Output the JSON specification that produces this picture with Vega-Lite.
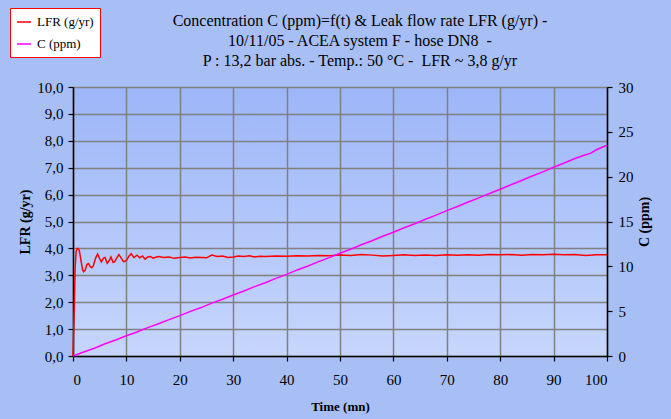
{
  "$schema": "https://vega.github.io/schema/vega-lite/v6.json",
  "width": 534,
  "height": 269,
  "autosize": {"type": "none"},
  "padding": {"left": 73, "top": 87, "right": 64, "bottom": 63},
  "background": "#a7bff5",
  "title": {
    "text": ["Concentration C (ppm)=f(t) & Leak flow rate LFR (g/yr) -", "10/11/05 - ACEA system F - hose DN8 \u00a0-", "P : 13,2 bar abs. - Temp.: 50 °C - \u00a0LFR ~ 3,8 g/yr"],
    "anchor": "middle",
    "dx": 20,
    "font": "Liberation Serif",
    "fontSize": 16,
    "fontWeight": "normal",
    "color": "#000000",
    "lineHeight": 20,
    "offset": -61
  },
  "config": {
    "view": {
      "stroke": null,
      "fill": {
        "gradient": "linear",
        "x1": 0, "y1": 0, "x2": 0, "y2": 1,
        "stops": [
          {"offset": 0, "color": "#9db6f8"},
          {"offset": 1, "color": "#c6d6fc"}
        ]
      }
    },
    "axis": {
      "labelFont": "Liberation Serif",
      "labelFontSize": 15,
      "labelColor": "#000000",
      "titleFont": "Liberation Serif",
      "titleFontWeight": "bold",
      "titleColor": "#000000",
      "gridColor": "#808080",
      "gridWidth": 1.5,
      "gridOpacity": 1,
      "domainColor": "#000000",
      "domainWidth": 1.5,
      "tickColor": "#000000",
      "tickWidth": 1.2,
      "tickSize": 5
    },
    "legend": {
      "labelFont": "Liberation Serif",
      "labelFontSize": 13,
      "labelColor": "#000000"
    }
  },
  "datasets": {
    "lfr": [
      {"t": 0, "v": 0}, {"t": 0.2, "v": 1.5}, {"t": 0.4, "v": 3.3}, {"t": 0.6, "v": 3.9}, {"t": 0.8, "v": 4.0},
      {"t": 1.0, "v": 4.0}, {"t": 1.2, "v": 3.9}, {"t": 1.5, "v": 3.55}, {"t": 1.8, "v": 3.2}, {"t": 2.0, "v": 3.13},
      {"t": 2.3, "v": 3.2}, {"t": 2.6, "v": 3.4}, {"t": 2.9, "v": 3.44}, {"t": 3.2, "v": 3.33}, {"t": 3.5, "v": 3.28},
      {"t": 3.8, "v": 3.35}, {"t": 4.2, "v": 3.62}, {"t": 4.6, "v": 3.79}, {"t": 5.0, "v": 3.62}, {"t": 5.3, "v": 3.5},
      {"t": 5.7, "v": 3.64}, {"t": 6.0, "v": 3.66}, {"t": 6.4, "v": 3.45}, {"t": 6.8, "v": 3.55}, {"t": 7.1, "v": 3.68},
      {"t": 7.5, "v": 3.48}, {"t": 7.8, "v": 3.5}, {"t": 8.2, "v": 3.65}, {"t": 8.6, "v": 3.77}, {"t": 9.0, "v": 3.65},
      {"t": 9.5, "v": 3.5}, {"t": 10.0, "v": 3.55}, {"t": 10.5, "v": 3.72}, {"t": 10.9, "v": 3.8}, {"t": 11.4, "v": 3.66},
      {"t": 12.0, "v": 3.75}, {"t": 12.5, "v": 3.65}, {"t": 13.0, "v": 3.72}, {"t": 13.5, "v": 3.6}, {"t": 14.0, "v": 3.68},
      {"t": 14.5, "v": 3.7}, {"t": 15, "v": 3.64}, {"t": 16, "v": 3.7}, {"t": 17, "v": 3.66}, {"t": 18, "v": 3.68},
      {"t": 19, "v": 3.63}, {"t": 20, "v": 3.66}, {"t": 21, "v": 3.68}, {"t": 22, "v": 3.64}, {"t": 23, "v": 3.67},
      {"t": 24, "v": 3.66}, {"t": 25, "v": 3.65}, {"t": 26, "v": 3.75}, {"t": 27, "v": 3.7}, {"t": 28, "v": 3.72},
      {"t": 29, "v": 3.66}, {"t": 30, "v": 3.68}, {"t": 31, "v": 3.72}, {"t": 32, "v": 3.7}, {"t": 33, "v": 3.73},
      {"t": 34, "v": 3.68}, {"t": 35, "v": 3.71}, {"t": 36, "v": 3.7}, {"t": 38, "v": 3.72}, {"t": 40, "v": 3.71},
      {"t": 42, "v": 3.73}, {"t": 44, "v": 3.72}, {"t": 46, "v": 3.74}, {"t": 48, "v": 3.73}, {"t": 50, "v": 3.75},
      {"t": 52, "v": 3.74}, {"t": 54, "v": 3.77}, {"t": 56, "v": 3.75}, {"t": 58, "v": 3.72}, {"t": 60, "v": 3.74},
      {"t": 62, "v": 3.76}, {"t": 64, "v": 3.74}, {"t": 66, "v": 3.75}, {"t": 68, "v": 3.74}, {"t": 70, "v": 3.76},
      {"t": 72, "v": 3.75}, {"t": 74, "v": 3.76}, {"t": 76, "v": 3.75}, {"t": 78, "v": 3.77}, {"t": 80, "v": 3.76},
      {"t": 82, "v": 3.77}, {"t": 84, "v": 3.75}, {"t": 86, "v": 3.77}, {"t": 88, "v": 3.76}, {"t": 90, "v": 3.78},
      {"t": 92, "v": 3.76}, {"t": 94, "v": 3.77}, {"t": 96, "v": 3.74}, {"t": 98, "v": 3.76}, {"t": 100, "v": 3.76}
    ],
    "conc": [
      {"t": 0, "v": 0}, {"t": 2, "v": 0.45}, {"t": 4, "v": 0.87}, {"t": 6, "v": 1.36}, {"t": 8, "v": 1.78},
      {"t": 10, "v": 2.25}, {"t": 12, "v": 2.68}, {"t": 14, "v": 3.17}, {"t": 16, "v": 3.59}, {"t": 18, "v": 4.06},
      {"t": 20, "v": 4.5}, {"t": 22, "v": 4.98}, {"t": 24, "v": 5.4}, {"t": 26, "v": 5.9}, {"t": 28, "v": 6.33},
      {"t": 30, "v": 6.81}, {"t": 32, "v": 7.25}, {"t": 34, "v": 7.74}, {"t": 36, "v": 8.17}, {"t": 38, "v": 8.66},
      {"t": 40, "v": 9.1}, {"t": 42, "v": 9.6}, {"t": 44, "v": 10.03}, {"t": 46, "v": 10.52}, {"t": 48, "v": 10.97},
      {"t": 50, "v": 11.46}, {"t": 52, "v": 11.91}, {"t": 54, "v": 12.4}, {"t": 56, "v": 12.85}, {"t": 58, "v": 13.35},
      {"t": 60, "v": 13.8}, {"t": 62, "v": 14.3}, {"t": 64, "v": 14.75}, {"t": 66, "v": 15.25}, {"t": 68, "v": 15.71},
      {"t": 70, "v": 16.21}, {"t": 72, "v": 16.67}, {"t": 74, "v": 17.17}, {"t": 76, "v": 17.63}, {"t": 78, "v": 18.13},
      {"t": 80, "v": 18.6}, {"t": 82, "v": 19.1}, {"t": 84, "v": 19.57}, {"t": 86, "v": 20.08}, {"t": 88, "v": 20.54},
      {"t": 90, "v": 21.05}, {"t": 92, "v": 21.52}, {"t": 94, "v": 22.03}, {"t": 96, "v": 22.45}, {"t": 97, "v": 22.62},
      {"t": 98, "v": 23.0}, {"t": 100, "v": 23.5}
    ]
  },
  "layer": [
    {
      "data": {"name": "lfr"},
      "mark": {"type": "line", "strokeWidth": 1.5},
      "encoding": {
        "x": {
          "field": "t", "type": "quantitative",
          "scale": {"domain": [0, 100], "nice": false},
          "axis": {"values": [0, 10, 20, 30, 40, 50, 60, 70, 80, 90, 100], "title": "Time (mn)", "titleFontSize": 13, "labelPadding": 11, "titlePadding": 13}
        },
        "y": {
          "field": "v", "type": "quantitative",
          "scale": {"domain": [0, 10], "nice": false},
          "axis": {"values": [0, 1, 2, 3, 4, 5, 6, 7, 8, 9, 10], "format": ".1f", "labelExpr": "replace(datum.label, '.', ',')", "title": "LFR (g/yr)", "titleFontSize": 14, "labelPadding": 5, "titlePadding": 4}
        },
        "color": {
          "datum": "LFR (g/yr)",
          "type": "nominal",
          "scale": {"domain": ["LFR (g/yr)", "C (ppm)"], "range": ["#ff0000", "#ff00ff"]},
          "legend": {
            "title": null,
            "orient": "none",
            "legendX": -63,
            "legendY": -79,
            "fillColor": "#ffffff",
            "strokeColor": "#ff0000",
            "padding": 6,
            "rowPadding": 7,
            "symbolType": "stroke",
            "symbolSize": 200,
            "symbolStrokeWidth": 1.5,
            "labelOffset": 5,
            "cornerRadius": 0
          }
        }
      }
    },
    {
      "data": {"name": "conc"},
      "mark": {"type": "line", "strokeWidth": 1.5},
      "encoding": {
        "x": {"field": "t", "type": "quantitative"},
        "y": {
          "field": "v", "type": "quantitative",
          "scale": {"domain": [0, 30], "nice": false},
          "axis": {"orient": "right", "values": [0, 5, 10, 15, 20, 25, 30], "grid": false, "title": "C (ppm)", "titleFontSize": 14, "titleAngle": -90, "titleBaseline": "top", "labelPadding": 6, "titlePadding": 4}
        },
        "color": {"datum": "C (ppm)", "type": "nominal"}
      }
    }
  ],
  "resolve": {"scale": {"y": "independent"}}
}
